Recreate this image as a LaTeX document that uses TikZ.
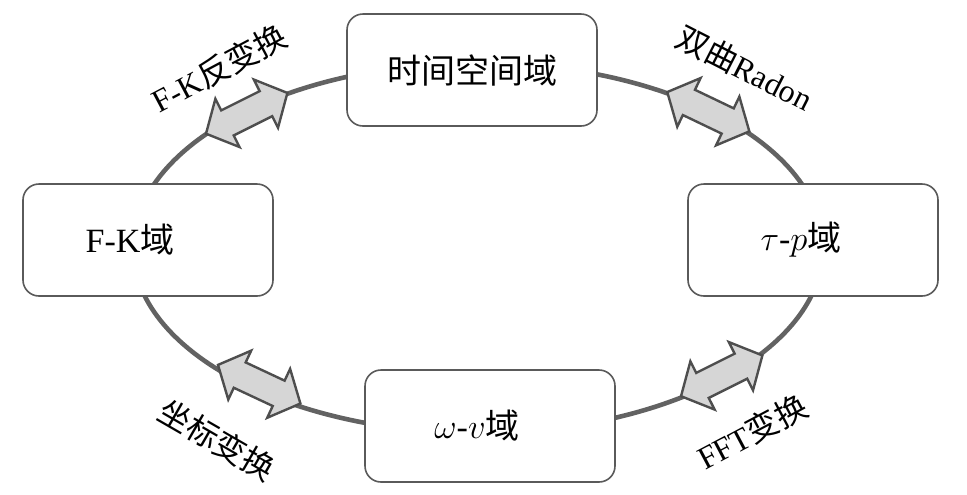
\documentclass[tikz,border=0pt]{standalone}
\usepackage{fontspec}
\setmainfont{Liberation Serif}
\newfontfamily\cjk{Noto Sans CJK SC}
\definecolor{ringgray}{HTML}{626262}
\definecolor{boxgray}{HTML}{5A5A5A}
\definecolor{arrowfill}{HTML}{D6D6D6}
\definecolor{arrowline}{HTML}{4E4E4E}
\tikzset{
  domainbox/.style={draw=boxgray, line width=0.8pt, rounded corners=8pt, fill=white,
    minimum width=125pt, minimum height=56pt, font=\fontsize{17pt}{20pt}\selectfont},
  trans/.style={font=\fontsize{16pt}{19pt}\selectfont, inner sep=0pt},
  ring/.style={draw=ringgray, line width=2.3pt},
  dblarrow/.pic={
    \draw[fill=arrowfill, draw=arrowline, line width=1.2pt, line join=miter]
      (-45.5,0) -- (-21.5,27) -- (-21.5,14) -- (21.5,14) -- (21.5,27) -- (45.5,0)
      -- (21.5,-27) -- (21.5,-14) -- (-21.5,-14) -- (-21.5,-27) -- cycle;
  }
}
\begin{document}
\begin{tikzpicture}[x=0.5pt,y=-0.5pt]
\useasboundingbox (0,0) rectangle (967,494);
% ring of domains
\draw[ring] (478,248) ellipse (345 and 185);
\node[domainbox] (tx) at (472,70) {{\cjk 时间空间域}};
\node[domainbox] (fk) at (148,240) {F-K{\cjk 域}\kern18pt};
\node[domainbox] (taup) at (813,240) {$\tau$-$p${\cjk 域}\kern12pt};
\node[domainbox] (wv) at (490,426) {$\omega$-$v${\cjk 域}\kern13pt};
% transforms
\pic[rotate=26.6] (fkarrow) at (246.7,113.3) {dblarrow};
\pic[rotate=-25.6] (radonarrow) at (708.3,111.7) {dblarrow};
\pic[rotate=-25.1] (coordarrow) at (259.2,384.2) {dblarrow};
\pic[rotate=26.6] (fftarrow) at (721.7,375.8) {dblarrow};
\node[trans, rotate=28] (fkinv) at (219,68) {F-K{\cjk 反变换}};
\node[trans, rotate=-27] (radon) at (745,68) {{\cjk 双曲}Radon};
\node[trans, rotate=-30] (coord) at (217,440) {{\cjk 坐标变换}};
\node[trans, rotate=28] (fft) at (752,432) {FFT{\cjk 变换}};
\end{tikzpicture}
\end{document}
